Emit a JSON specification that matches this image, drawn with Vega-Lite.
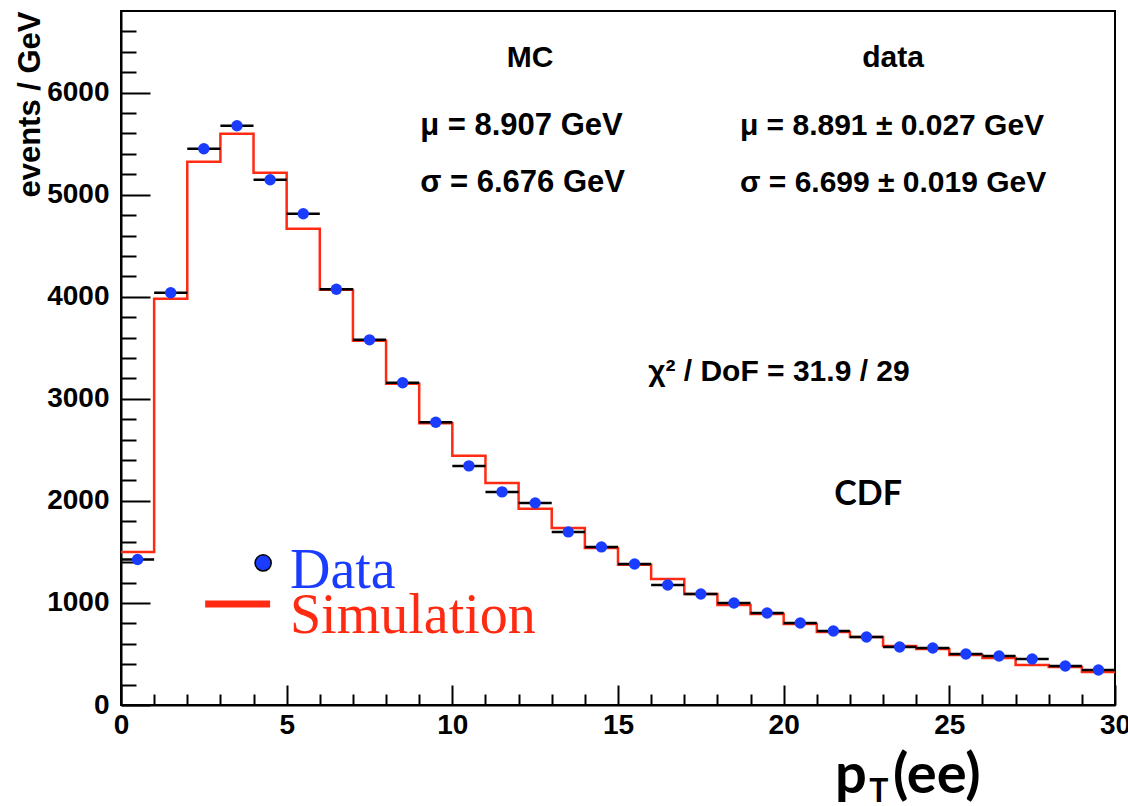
{
  "$schema": "https://vega.github.io/schema/vega-lite/v6.json",
  "autosize": {"type": "none"},
  "width": 994,
  "height": 694,
  "padding": {"left": 121, "top": 11, "right": 13, "bottom": 101},
  "background": "white",
  "config": {
    "view": {"stroke": "black", "strokeWidth": 2},
    "font": "Liberation Sans",
    "axis": {"grid": false, "title": null, "labelOverlap": false, "labelBound": false, "labelFlush": false}
  },
  "datasets": {
    "bins": [
      {"lo": 0, "hi": 1, "pt": 0.5, "data": 1426},
      {"lo": 1, "hi": 2, "pt": 1.5, "data": 4039},
      {"lo": 2, "hi": 3, "pt": 2.5, "data": 5451},
      {"lo": 3, "hi": 4, "pt": 3.5, "data": 5676},
      {"lo": 4, "hi": 5, "pt": 4.5, "data": 5147},
      {"lo": 5, "hi": 6, "pt": 5.5, "data": 4814},
      {"lo": 6, "hi": 7, "pt": 6.5, "data": 4074},
      {"lo": 7, "hi": 8, "pt": 7.5, "data": 3578},
      {"lo": 8, "hi": 9, "pt": 8.5, "data": 3157},
      {"lo": 9, "hi": 10, "pt": 9.5, "data": 2770},
      {"lo": 10, "hi": 11, "pt": 10.5, "data": 2343},
      {"lo": 11, "hi": 12, "pt": 11.5, "data": 2088},
      {"lo": 12, "hi": 13, "pt": 12.5, "data": 1980},
      {"lo": 13, "hi": 14, "pt": 13.5, "data": 1696},
      {"lo": 14, "hi": 15, "pt": 14.5, "data": 1549},
      {"lo": 15, "hi": 16, "pt": 15.5, "data": 1382},
      {"lo": 16, "hi": 17, "pt": 16.5, "data": 1176},
      {"lo": 17, "hi": 18, "pt": 17.5, "data": 1088},
      {"lo": 18, "hi": 19, "pt": 18.5, "data": 1000},
      {"lo": 19, "hi": 20, "pt": 19.5, "data": 902},
      {"lo": 20, "hi": 21, "pt": 20.5, "data": 804},
      {"lo": 21, "hi": 22, "pt": 21.5, "data": 725},
      {"lo": 22, "hi": 23, "pt": 22.5, "data": 667},
      {"lo": 23, "hi": 24, "pt": 23.5, "data": 569},
      {"lo": 24, "hi": 25, "pt": 24.5, "data": 559},
      {"lo": 25, "hi": 26, "pt": 25.5, "data": 500},
      {"lo": 26, "hi": 27, "pt": 26.5, "data": 480},
      {"lo": 27, "hi": 28, "pt": 27.5, "data": 451},
      {"lo": 28, "hi": 29, "pt": 28.5, "data": 382},
      {"lo": 29, "hi": 30, "pt": 29.5, "data": 343}
    ],
    "sim": [
      {"edge": 0, "sim": 1500},
      {"edge": 1, "sim": 3980},
      {"edge": 2, "sim": 5324},
      {"edge": 3, "sim": 5598},
      {"edge": 4, "sim": 5216},
      {"edge": 5, "sim": 4667},
      {"edge": 6, "sim": 4069},
      {"edge": 7, "sim": 3569},
      {"edge": 8, "sim": 3147},
      {"edge": 9, "sim": 2760},
      {"edge": 10, "sim": 2441},
      {"edge": 11, "sim": 2176},
      {"edge": 12, "sim": 1922},
      {"edge": 13, "sim": 1735},
      {"edge": 14, "sim": 1539},
      {"edge": 15, "sim": 1373},
      {"edge": 16, "sim": 1235},
      {"edge": 17, "sim": 1088},
      {"edge": 18, "sim": 980},
      {"edge": 19, "sim": 892},
      {"edge": 20, "sim": 794},
      {"edge": 21, "sim": 716},
      {"edge": 22, "sim": 667},
      {"edge": 23, "sim": 578},
      {"edge": 24, "sim": 549},
      {"edge": 25, "sim": 490},
      {"edge": 26, "sim": 461},
      {"edge": 27, "sim": 392},
      {"edge": 28, "sim": 373},
      {"edge": 29, "sim": 324},
      {"edge": 30, "sim": 324}
    ]
  },
  "layer": [
    {
      "data": {"name": "sim"},
      "mark": {"type": "line", "interpolate": "step-after", "color": "#ff2a12", "strokeWidth": 2.5},
      "encoding": {
        "x": {
          "field": "edge", "type": "quantitative",
          "scale": {"domain": [0, 30], "nice": false, "zero": false},
          "axis": {
            "title": null,
            "values": [0,1,2,3,4,5,6,7,8,9,10,11,12,13,14,15,16,17,18,19,20,21,22,23,24,25,26,27,28,29,30],
            "tickCount": 200,
            "format": "d",
            "labelExpr": "datum.value % 5 === 0 ? datum.label : ''",
            "labelFont": "Liberation Sans", "labelFontWeight": "bold", "labelFontSize": 28, "labelColor": "black",
            "labelPadding": 26, "labelOverlap": false, "labelFlush": false, "labelBound": false,
            "tickSize": {"condition": {"test": "datum.value % 5 === 0", "value": -20}, "value": -11},
            "tickColor": "black", "tickWidth": 2,
            "domainColor": "black", "domainWidth": 2, "grid": false
          }
        },
        "y": {
          "field": "sim", "type": "quantitative",
          "scale": {"domain": [0, 6800], "nice": false, "zero": true},
          "axis": {
            "title": "events / GeV",
            "titleFont": "Liberation Sans", "titleFontWeight": "bold", "titleFontSize": 31, "titleColor": "black",
            "titleAngle": -90, "titleAlign": "right", "titleBaseline": "top", "titleAnchor": "end",
            "titleX": -106, "titleY": 0,
            "values": [0,200,400,600,800,1000,1200,1400,1600,1800,2000,2200,2400,2600,2800,3000,3200,3400,3600,3800,4000,4200,4400,4600,4800,5000,5200,5400,5600,5800,6000,6200,6400,6600],
            "tickCount": 200,
            "labelExpr": "datum.value % 1000 === 0 ? datum.label : ''",
            "format": "d",
            "labelFont": "Liberation Sans", "labelFontWeight": "bold", "labelFontSize": 28, "labelColor": "black",
            "labelPadding": 41, "labelOverlap": false, "labelFlush": false, "labelBound": false,
            "tickSize": {"condition": {"test": "datum.value % 1000 === 0", "value": -29}, "value": -15},
            "tickColor": "black", "tickWidth": 2,
            "domainColor": "black", "domainWidth": 2, "grid": false
          }
        }
      }
    },
    {
      "data": {"name": "bins"},
      "mark": {"type": "rule", "color": "black", "strokeWidth": 2.5},
      "encoding": {
        "x": {"field": "lo", "type": "quantitative"},
        "x2": {"field": "hi"},
        "y": {"field": "data", "type": "quantitative"}
      }
    },
    {
      "data": {"name": "bins"},
      "mark": {"type": "point", "shape": "circle", "filled": true, "color": "#1a3cff", "size": 130, "opacity": 1},
      "encoding": {
        "x": {"field": "pt", "type": "quantitative"},
        "y": {"field": "data", "type": "quantitative"}
      }
    },
    {
      "data": {"values": [{}]},
      "layer": [
        {
          "mark": {"type": "text", "text": "MC", "font": "Liberation Sans", "fontWeight": "bold", "fontSize": 30, "align": "center", "baseline": "middle", "color": "black"},
          "encoding": {"x": {"datum": 12.35, "type": "quantitative"}, "y": {"datum": 6343, "type": "quantitative"}}
        },
        {
          "mark": {"type": "text", "text": "data", "font": "Liberation Sans", "fontWeight": "bold", "fontSize": 30, "align": "center", "baseline": "middle", "color": "black"},
          "encoding": {"x": {"datum": 23.3, "type": "quantitative"}, "y": {"datum": 6343, "type": "quantitative"}}
        },
        {
          "mark": {"type": "text", "text": "μ = 8.907 GeV", "font": "Liberation Sans", "fontWeight": "bold", "fontSize": 31, "align": "left", "baseline": "middle", "color": "black"},
          "encoding": {"x": {"datum": 9.03, "type": "quantitative"}, "y": {"datum": 5676, "type": "quantitative"}}
        },
        {
          "mark": {"type": "text", "text": "μ = 8.891 ± 0.027 GeV", "font": "Liberation Sans", "fontWeight": "bold", "fontSize": 30, "align": "left", "baseline": "middle", "color": "black"},
          "encoding": {"x": {"datum": 18.68, "type": "quantitative"}, "y": {"datum": 5676, "type": "quantitative"}}
        },
        {
          "mark": {"type": "text", "text": "σ = 6.676 GeV", "font": "Liberation Sans", "fontWeight": "bold", "fontSize": 31, "align": "left", "baseline": "middle", "color": "black"},
          "encoding": {"x": {"datum": 9.03, "type": "quantitative"}, "y": {"datum": 5118, "type": "quantitative"}}
        },
        {
          "mark": {"type": "text", "text": "σ = 6.699  ± 0.019 GeV", "font": "Liberation Sans", "fontWeight": "bold", "fontSize": 30, "align": "left", "baseline": "middle", "color": "black"},
          "encoding": {"x": {"datum": 18.68, "type": "quantitative"}, "y": {"datum": 5118, "type": "quantitative"}}
        },
        {
          "mark": {"type": "text", "text": "χ² / DoF = 31.9 / 29", "font": "Liberation Sans", "fontWeight": "bold", "fontSize": 30, "align": "left", "baseline": "middle", "color": "black"},
          "encoding": {"x": {"datum": 15.91, "type": "quantitative"}, "y": {"datum": 3265, "type": "quantitative"}}
        },
        {
          "mark": {"type": "text", "text": "CDF", "font": "Lato", "fontWeight": "bold", "fontSize": 34, "align": "center", "baseline": "middle", "color": "black"},
          "encoding": {"x": {"datum": 22.55, "type": "quantitative"}, "y": {"datum": 2059, "type": "quantitative"}}
        },
        {
          "mark": {"type": "rule", "color": "#ff2a12", "strokeWidth": 7},
          "encoding": {"x": {"datum": 2.54, "type": "quantitative"}, "x2": {"datum": 4.5}, "y": {"datum": 990, "type": "quantitative"}}
        },
        {
          "mark": {"type": "point", "shape": "circle", "filled": true, "color": "#1a3cff", "stroke": "black", "strokeWidth": 1.5, "size": 260, "opacity": 1},
          "encoding": {"x": {"datum": 4.29, "type": "quantitative"}, "y": {"datum": 1392, "type": "quantitative"}}
        },
        {
          "mark": {"type": "text", "text": "Data", "font": "Liberation Serif", "fontSize": 56, "align": "left", "baseline": "alphabetic", "color": "#1a3cff"},
          "encoding": {"x": {"datum": 5.1, "type": "quantitative"}, "y": {"datum": 1147, "type": "quantitative"}}
        },
        {
          "mark": {"type": "text", "text": "Simulation", "font": "Liberation Serif", "fontSize": 56, "align": "left", "baseline": "alphabetic", "color": "#ff2a12"},
          "encoding": {"x": {"datum": 5.1, "type": "quantitative"}, "y": {"datum": 706, "type": "quantitative"}}
        },
        {
          "mark": {"type": "text", "text": "p", "font": "Lato", "fontWeight": "bold", "fontSize": 56, "align": "left", "baseline": "alphabetic", "color": "black"},
          "encoding": {"x": {"datum": 21.55, "type": "quantitative"}, "y": {"datum": -863, "type": "quantitative"}}
        },
        {
          "mark": {"type": "text", "text": "T", "font": "Lato", "fontWeight": "bold", "fontSize": 32, "align": "left", "baseline": "alphabetic", "color": "black"},
          "encoding": {"x": {"datum": 22.58, "type": "quantitative"}, "y": {"datum": -950, "type": "quantitative"}}
        },
        {
          "mark": {"type": "text", "text": "(ee)", "font": "Lato", "fontWeight": "bold", "fontSize": 56, "align": "left", "baseline": "alphabetic", "color": "black"},
          "encoding": {"x": {"datum": 23.3, "type": "quantitative"}, "y": {"datum": -863, "type": "quantitative"}}
        }
      ]
    }
  ]
}
